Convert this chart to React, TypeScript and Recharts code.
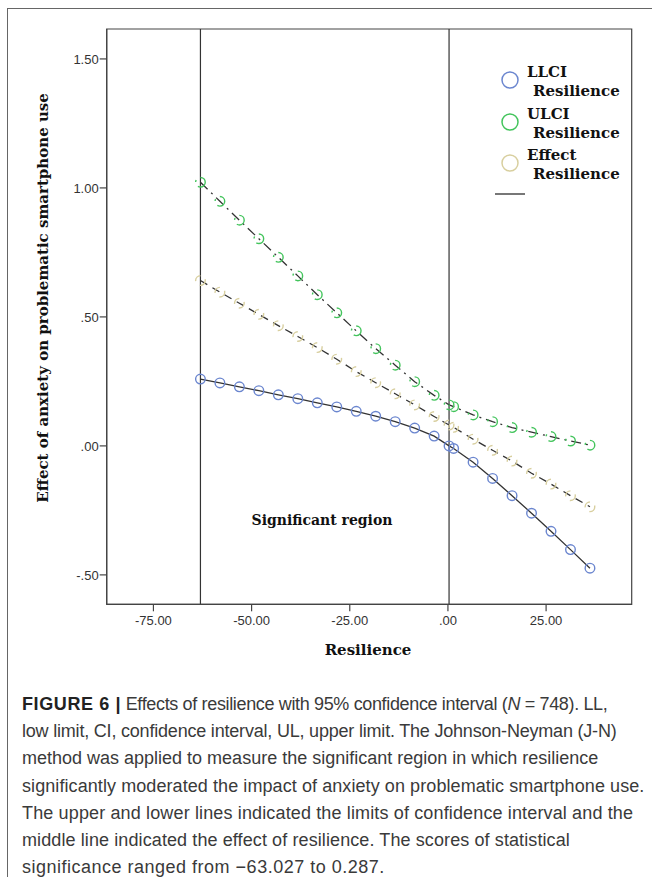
import React from 'react';
import { LineChart, Line, XAxis, YAxis, ReferenceLine, ReferenceArea } from 'recharts';

const resilience = [-63.03, -58.07, -53.11, -48.15, -43.19, -38.23, -33.27, -28.31, -23.35, -18.39, -13.43, -8.47, -3.51, 0.29, 1.45, 6.41, 11.37, 16.33, 21.29, 26.25, 31.21, 36.17];
const llci = [0.259, 0.244, 0.229, 0.214, 0.198, 0.183, 0.167, 0.151, 0.134, 0.115, 0.094, 0.069, 0.038, 0.0, -0.01, -0.063, -0.126, -0.193, -0.261, -0.331, -0.402, -0.474];
const ulci = [1.022, 0.948, 0.875, 0.803, 0.731, 0.659, 0.586, 0.516, 0.446, 0.377, 0.313, 0.249, 0.196, 0.159, 0.152, 0.12, 0.094, 0.071, 0.053, 0.036, 0.019, 0.003];
const effect = [0.641, 0.596, 0.553, 0.51, 0.466, 0.424, 0.381, 0.336, 0.288, 0.245, 0.202, 0.159, 0.114, 0.081, 0.072, 0.026, -0.017, -0.059, -0.106, -0.148, -0.193, -0.236];

const xTicks = [-75, -50, -25, 0, 25];
const xTickLabels = ['-75.00', '-50.00', '-25.00', '.00', '25.00'];
const yTicks = [-0.5, 0, 0.5, 1.0, 1.5];
const yTickLabels = ['-.50', '.00', '.50', '1.00', '1.50'];
const jnBounds = [-63.027, 0.287];
const xDomain = [-86.9, 46.8];
const yDomain = [-0.614, 1.616];

const legendItems = [
  { name: 'LLCI', color: '#6b86cf' },
  { name: 'ULCI', color: '#43c45c' },
  { name: 'Effect', color: '#d8cf9f' },
];

const captionLines = [
  null,
  'low limit, CI, confidence interval, UL, upper limit. The Johnson-Neyman (J-N)',
  'method was applied to measure the significant region in which resilience',
  'significantly moderated the impact of anxiety on problematic smartphone use.',
  'The upper and lower lines indicated the limits of confidence interval and the',
  'middle line indicated the effect of resilience. The scores of statistical',
  'significance ranged from \u221263.027 to 0.287.',
];

const data = resilience.map((x, i) => ({ x, llci: llci[i], ulci: ulci[i], effect: effect[i] }));

const serif = '"DejaVu Serif", serif';
const sans = '"Liberation Sans", Arial, sans-serif';

export default function App() {
  const captionSpacing = [-0.35, -0.2, 0, 0.08, 0.14, 0.1, 0.5];
  return (
    <div style={{ position: 'absolute', left: 0, top: 0, width: 652, height: 877, background: '#fff', overflow: 'hidden' }}>
      <div style={{ position: 'absolute', left: 7, top: 8, width: 700, height: 900, borderTop: '1.5px solid #666', borderLeft: '1.5px solid #666' }} />
      <div style={{ position: 'absolute', left: 0, top: 0 }}>
        <LineChart width={652} height={680} data={data} margin={{ top: 29, right: 20.3, bottom: 45.7, left: 46.7 }}>
          <XAxis
            dataKey="x"
            type="number"
            domain={xDomain}
            ticks={xTicks}
            tickFormatter={(v) => xTickLabels[xTicks.indexOf(v)]}
            tick={{ fill: '#333', fontSize: 13, fontFamily: sans }}
            tickSize={7}
            tickMargin={4}
            axisLine={{ stroke: '#444', strokeWidth: 1.2 }}
            tickLine={{ stroke: '#444', strokeWidth: 1.2 }}
            height={30}
            allowDataOverflow
          />
          <YAxis
            type="number"
            domain={yDomain}
            ticks={yTicks}
            tickFormatter={(v) => yTickLabels[yTicks.indexOf(v)]}
            tick={{ fill: '#333', fontSize: 13, fontFamily: sans }}
            tickSize={7}
            tickMargin={1}
            axisLine={{ stroke: '#444', strokeWidth: 1.2 }}
            tickLine={{ stroke: '#444', strokeWidth: 1.2 }}
            width={60}
            allowDataOverflow
          />
          <ReferenceArea x1={xDomain[0]} x2={xDomain[1]} y1={yDomain[0]} y2={yDomain[1]} fill="none" stroke="#444" strokeWidth={1.2} ifOverflow="visible" />
          {jnBounds.map((b) => (
            <ReferenceLine key={b} x={b} stroke="#333" strokeWidth={1.2} />
          ))}
          <Line dataKey="llci" type="linear" stroke="#333" strokeWidth={1.3} isAnimationActive={false}
            dot={{ r: 4.8, stroke: legendItems[0].color, strokeWidth: 1.4, fill: 'none' }} />
          <Line dataKey="ulci" type="linear" stroke="#333" strokeWidth={1.3} strokeDasharray="10 5 2 5" isAnimationActive={false}
            dot={{ r: 4.8, stroke: legendItems[1].color, strokeWidth: 1.4, fill: 'none' }} />
          <Line dataKey="effect" type="linear" stroke="#333" strokeWidth={1.3} strokeDasharray="8 6" isAnimationActive={false}
            dot={{ r: 4.8, stroke: legendItems[2].color, strokeWidth: 1.4, fill: 'none' }} />
        </LineChart>
      </div>

      {/* Y axis title */}
      <div style={{ position: 'absolute', left: 43, top: 298, width: 0, height: 0 }}>
        <div style={{ position: 'absolute', left: 0, top: 0, transform: 'translate(-50%, -50%) rotate(-90deg)', whiteSpace: 'nowrap', fontFamily: serif, fontWeight: 'bold', fontSize: 15, color: '#111' }}>
          Effect of anxiety on problematic smartphone use
        </div>
      </div>
      {/* X axis title */}
      <div style={{ position: 'absolute', left: 368, top: 655, width: 0 }}>
        <div style={{ position: 'absolute', left: 0, top: -14, transform: 'translateX(-50%)', whiteSpace: 'nowrap', fontFamily: serif, fontWeight: 'bold', fontSize: 15, color: '#111' }}>
          Resilience
        </div>
      </div>
      {/* Significant region */}
      <div style={{ position: 'absolute', left: 322, top: 512, width: 0 }}>
        <div style={{ position: 'absolute', left: 0, top: 0, transform: 'translateX(-50%)', whiteSpace: 'nowrap', fontFamily: serif, fontWeight: 'bold', fontSize: 14, color: '#111' }}>
          Significant region
        </div>
      </div>

      {/* Legend */}
      {legendItems.map((it, i) => (
        <div key={it.name} style={{ position: 'absolute', left: 500, top: 63 + i * 41.5, fontFamily: serif, fontWeight: 'bold', fontSize: 15, color: '#111', lineHeight: '19px' }}>
          <svg width={20} height={20} style={{ position: 'absolute', left: 0, top: 7 }}>
            <circle cx={10} cy={10} r={8} fill="none" stroke={it.color} strokeWidth={1.5} />
          </svg>
          <div style={{ position: 'absolute', left: 27, top: 0, whiteSpace: 'nowrap' }}>{it.name}</div>
          <div style={{ position: 'absolute', left: 33, top: 19, whiteSpace: 'nowrap' }}>Resilience</div>
        </div>
      ))}
      <div style={{ position: 'absolute', left: 495, top: 193, width: 30, height: 2, background: '#777' }} />

      {/* Caption */}
      <div style={{ position: 'absolute', left: 22, top: 691, fontFamily: sans, fontSize: 18, color: '#3a3a3a', lineHeight: '27.2px' }}>
        {captionLines.map((ln, i) => (
          <div key={i} style={{ whiteSpace: 'nowrap', letterSpacing: captionSpacing[i] }}>
            {ln === null ? (
              <span>
                <b style={{ color: '#222', letterSpacing: 0.6 }}>FIGURE 6 |</b> Effects of resilience with 95% confidence interval (<i>N</i> = 748). LL,
              </span>
            ) : ln}
          </div>
        ))}
      </div>
    </div>
  );
}
